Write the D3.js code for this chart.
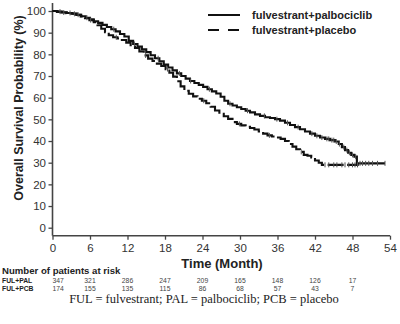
<!DOCTYPE html>
<html><head><meta charset="utf-8">
<script src="https://cdn.jsdelivr.net/npm/d3@7"></script>
<style>body{margin:0;background:#fff}svg{display:block}</style>
</head><body>
<svg id="c" width="400" height="324"></svg>
<script>
// ---- data ----
const xTicks = [0,6,12,18,24,30,36,42,48,54];
const yTicks = [0,10,20,30,40,50,60,70,80,90,100];
const seriesNames = ["fulvestrant+palbociclib","fulvestrant+placebo"];
const palbo = [[0,100],[0.8,99.7],[1.5,99.4],[2.3,99.1],[3.2,98.8],[3.9,98.3],[4.6,97.6],[5.3,96.9],[6,96.2],[6.6,95.3],[7.3,94.5],[8,93.6],[8.7,92.6],[9.4,91.6],[10.1,90.6],[10.8,89.4],[11.5,88.2],[12.2,86.2],[12.9,84.8],[13.6,83.6],[14.3,82.3],[15,81],[15.7,79.6],[16.4,78.2],[17.1,76.8],[17.8,75.3],[18.5,73.9],[19.2,72.6],[19.9,71.2],[20.6,70],[21.3,68.8],[22,67.7],[22.7,66.8],[23.4,65.9],[24.1,65],[24.8,63.9],[25.5,62.9],[26.2,61.9],[26.9,60.4],[27.5,58.6],[28.1,57.2],[28.8,56.4],[29.5,55.6],[30.2,54.8],[30.9,54],[31.6,53.2],[32.4,52.3],[33.2,51.6],[34,51],[34.8,50.6],[35.6,50.1],[36.4,49.4],[37.2,48.4],[38,47.4],[38.8,46.4],[39.6,45.4],[40.4,44.4],[41.2,43.4],[42,42.4],[42.8,41.6],[43.6,41],[44.4,40.4],[45.2,39.8],[45.8,38.6],[46.3,37.2],[46.8,35.8],[47.3,34.6],[47.8,33.6],[48.3,32.8],[48.7,29.7],[53.2,29.7]];
const placebo = [[0,100],[0.7,99.6],[1.4,99.3],[2.2,99],[3,98.7],[3.8,98.2],[4.5,97.5],[5.2,96.7],[5.9,95.8],[6.6,94.8],[7.2,93.4],[7.8,91.8],[8.4,90.2],[9,88.8],[9.7,87.9],[10.4,87.3],[11.1,86.6],[11.8,85.4],[12.5,84.2],[13.2,82.9],[13.9,81.3],[14.6,79.5],[15.3,78],[16,76.9],[16.7,75.7],[17.4,74.6],[18.1,73.2],[18.7,71.5],[19.3,69.7],[19.9,67.6],[20.5,65.2],[21.1,63.2],[21.8,61.8],[22.5,60.6],[23.2,59.5],[23.9,58.6],[24.6,57.4],[25.3,55.8],[26,54.1],[26.7,52.6],[27.4,51.4],[28.1,50.2],[28.8,48.7],[29.5,47.9],[30.2,47.2],[30.9,46.6],[31.6,46],[32.3,45.3],[33,44.4],[33.7,43.4],[34.4,42.6],[35.1,42.1],[35.8,41.6],[36.5,41],[37.2,40],[37.8,38.6],[38.4,37.4],[39,36.2],[39.6,35],[40.2,33.6],[40.8,33.2],[41.4,32.4],[42,31],[42.6,30],[43.1,29],[49,29]];
const palboCensor = [1.2,2.8,4.1,5.5,9.8,13.1,16.9,20.3,22.1,25.1,28.4,31.2,33.9,35.9,37.6,39.3,41.5,42.3,43.1,43.9,44.2,44.7,45.0,45.4,45.9,46.6,47.1,47.5,48.0,48.5,49.2,49.6,50.1,50.6,51.2,52.0,53.2];
const placeboCensor = [1.8,3.5,6.1,10.2,14.9,18.4,24.2,29.9,34.7,39.8,43.6,44.2,45.0,45.5,46.3,46.8,47.4,48.0,48.4,48.8];
const riskTimes = [0,6,12,18,24,30,36,42,48];
const riskLabels = ["FUL+PAL","FUL+PCB"];
const riskPal = [347,321,286,247,209,165,148,126,17];
const riskPcb = [174,155,135,115,86,68,57,43,7];
const footnote = "FUL = fulvestrant; PAL = palbociclib; PCB = placebo";

// ---- layout ----
const svg = d3.select("#c");
const x = d3.scaleLinear().domain([0,54]).range([52.5,390]);
const y = d3.scaleLinear().domain([0,100]).range([227.7,11]);
const axisY = 235.7;
const axisCol = "#444";
const sans = "Arial, 'Liberation Sans', Helvetica, sans-serif";

// y axis
const gy = svg.append("g").attr("transform",`translate(${x(0)},0)`)
  .call(d3.axisLeft(y).tickValues(yTicks).tickSize(4).tickPadding(2.5));
gy.select(".domain").remove();
gy.selectAll(".tick line").attr("stroke",axisCol).attr("stroke-width",1.3);
gy.selectAll(".tick text").attr("font-family",sans).attr("font-size",11.5).attr("fill","#333");
svg.append("line").attr("x1",x(0)).attr("x2",x(0)).attr("y1",3).attr("y2",axisY)
  .attr("stroke",axisCol).attr("stroke-width",1.6);

// x axis
const gx = svg.append("g").attr("transform",`translate(0,${axisY})`)
  .call(d3.axisBottom(x).tickValues(xTicks).tickSize(4).tickPadding(4));
gx.select(".domain").remove();
gx.selectAll(".tick line").attr("stroke",axisCol).attr("stroke-width",1.3);
gx.selectAll(".tick text").attr("font-family",sans).attr("font-size",11.5).attr("fill","#333");
svg.append("line").attr("x1",x(0)).attr("x2",x(54)).attr("y1",axisY).attr("y2",axisY)
  .attr("stroke",axisCol).attr("stroke-width",1.6);

// titles
svg.append("text").attr("transform",`translate(23,108) rotate(-90)`).attr("text-anchor","middle")
  .attr("font-family",sans).attr("font-weight","bold").attr("font-size",12.5).attr("fill","#222")
  .text("Overall Survival Probability (%)");
svg.append("text").attr("x",222).attr("y",268).attr("text-anchor","middle")
  .attr("font-family",sans).attr("font-weight","bold").attr("font-size",13).attr("fill","#222")
  .text("Time (Month)");

// curves
const line = d3.line().x(d=>x(d[0])).y(d=>y(d[1])).curve(d3.curveStepAfter);
function survAt(data,t){let s=data[0][1];for(const d of data){if(d[0]<=t)s=d[1];}return s;}
function drawCensor(data,cs){
  svg.append("g").selectAll("line").data(cs).join("line")
    .attr("x1",t=>x(t)).attr("x2",t=>x(t))
    .attr("y1",t=>y(survAt(data,t))-2.5).attr("y2",t=>y(survAt(data,t))+2.5)
    .attr("stroke","#555").attr("stroke-width",1);
}
svg.append("path").datum(placebo).attr("d",line).attr("fill","none")
  .attr("stroke","#111").attr("stroke-width",2.1).attr("stroke-dasharray","16,3.5");
svg.append("path").datum(palbo).attr("d",line).attr("fill","none")
  .attr("stroke","#111").attr("stroke-width",2.1);
drawCensor(placebo,placeboCensor);
drawCensor(palbo,palboCensor);

// legend
const leg = [{y:15,dash:null},{y:30,dash:"11,9"}];
leg.forEach((l,i)=>{
  svg.append("line").attr("x1",208).attr("x2",240).attr("y1",l.y).attr("y2",l.y)
    .attr("stroke","#111").attr("stroke-width",2).attr("stroke-dasharray",l.dash);
  svg.append("text").attr("x",252).attr("y",l.y+4).attr("font-family",sans)
    .attr("font-weight","bold").attr("font-size",11).attr("fill","#222").text(seriesNames[i]);
});

// risk table
svg.append("text").attr("x",2).attr("y",273.5).attr("font-family",sans).attr("font-weight","bold")
  .attr("font-size",9.6).attr("fill","#222").text("Number of patients at risk");
[riskPal,riskPcb].forEach((row,i)=>{
  const yy = 282.5 + i*8;
  svg.append("text").attr("x",2).attr("y",yy).attr("font-family",sans).attr("font-weight","bold")
    .attr("font-size",6.8).attr("fill","#222").text(riskLabels[i]);
  svg.append("g").selectAll("text").data(row).join("text")
    .attr("x",(d,j)=>x(riskTimes[j])).attr("y",yy)
    .attr("text-anchor",(d,j)=>j===0?"start":"middle")
    .attr("font-family",sans).attr("font-size",6.8).attr("fill","#444").text(d=>d);
});

// footnote
svg.append("text").attr("x",204).attr("y",303.3).attr("text-anchor","middle")
  .attr("font-family","'Liberation Serif','Times New Roman',serif").attr("font-size",12.5)
  .attr("fill","#222").text(footnote);
</script>
</body></html>
